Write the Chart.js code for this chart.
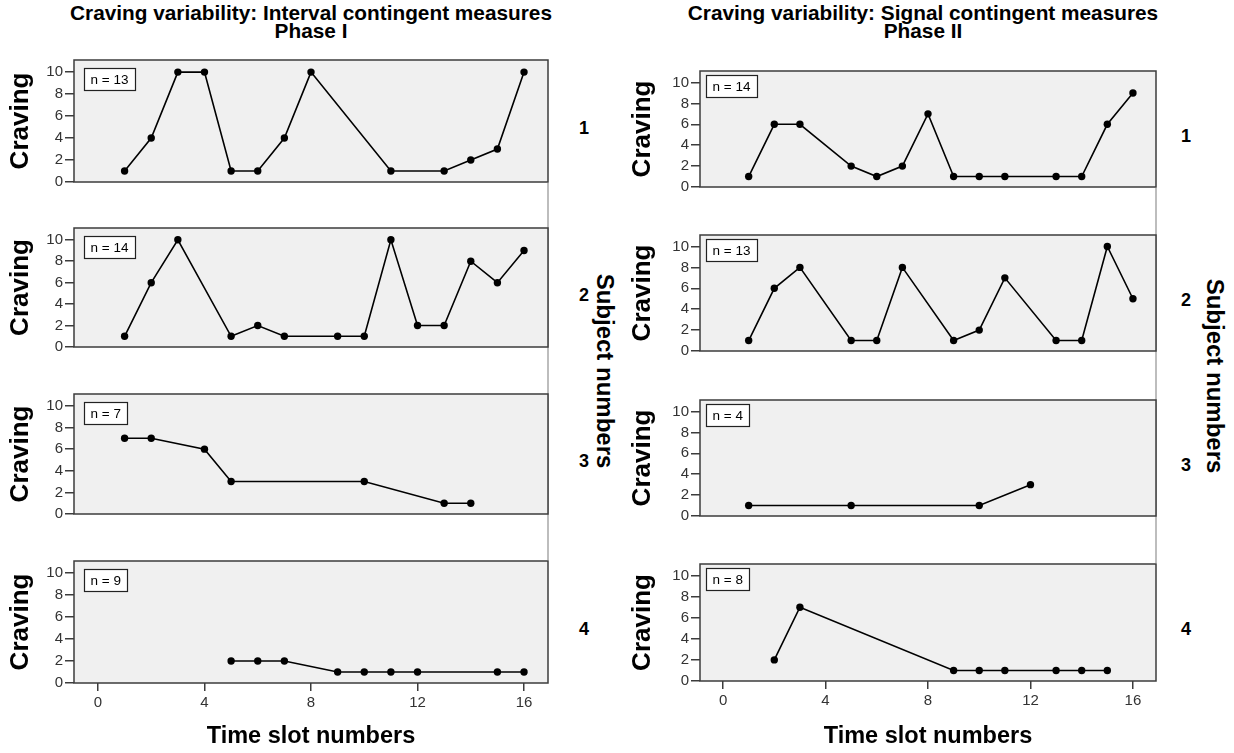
<!DOCTYPE html>
<html>
<head>
<meta charset="utf-8">
<script src="https://cdn.jsdelivr.net/npm/chart.js@4.4.1/dist/chart.umd.min.js"></script>
<style>
  body { margin: 0; background: #fff; font-family: "Liberation Sans", Arial, sans-serif; }
  #wrap { position: relative; width: 1234px; height: 753px; overflow: hidden; }
  canvas { position: absolute; }
  .txt { position: absolute; font-weight: bold; color: #000; white-space: nowrap; }
  .vline { position: absolute; width: 2px; background: #bdbdbd; }
</style>
</head>
<body>
<div id="wrap"></div>
<script>
// axis ticks
const xTicks = [0, 4, 8, 12, 16];
const yTicks = [0, 2, 4, 6, 8, 10];
const subjects = ["1", "2", "3", "4"];

// Phase I - interval contingent measures
const p1s1Slots = [1, 2, 3, 4, 5, 6, 7, 8, 11, 13, 14, 15, 16];
const p1s1Craving = [1, 4, 10, 10, 1, 1, 4, 10, 1, 1, 2, 3, 10];
const p1s2Slots = [1, 2, 3, 5, 6, 7, 9, 10, 11, 12, 13, 14, 15, 16];
const p1s2Craving = [1, 6, 10, 1, 2, 1, 1, 1, 10, 2, 2, 8, 6, 9];
const p1s3Slots = [1, 2, 4, 5, 10, 13, 14];
const p1s3Craving = [7, 7, 6, 3, 3, 1, 1];
const p1s4Slots = [5, 6, 7, 9, 10, 11, 12, 15, 16];
const p1s4Craving = [2, 2, 2, 1, 1, 1, 1, 1, 1];

// Phase II - signal contingent measures
const p2s1Slots = [1, 2, 3, 5, 6, 7, 8, 9, 10, 11, 13, 14, 15, 16];
const p2s1Craving = [1, 6, 6, 2, 1, 2, 7, 1, 1, 1, 1, 1, 6, 9];
const p2s2Slots = [1, 2, 3, 5, 6, 7, 9, 10, 11, 13, 14, 15, 16];
const p2s2Craving = [1, 6, 8, 1, 1, 8, 1, 2, 7, 1, 1, 10, 5];
const p2s3Slots = [1, 5, 10, 12];
const p2s3Craving = [1, 1, 1, 3];
const p2s4Slots = [2, 3, 9, 10, 11, 13, 14, 15];
const p2s4Craving = [2, 7, 1, 1, 1, 1, 1, 1];

const FONT = '"Liberation Sans", Arial, sans-serif';
const wrap = document.getElementById("wrap");

// layout of the two columns (pixels)
const columns = [
  {
    title: ["Craving variability: Interval contingent measures", "Phase I"],
    titleCenter: 311,
    canvasLeft: 0, plotLeft: 74, plotRight: 548,
    tops: [59, 227, 393, 560], bottoms: [183, 348, 515, 683],
    yTitlePad: 5, boxX: 10, boxY: 8, stripX: 584, subjX: 605,
    slots: [p1s1Slots, p1s2Slots, p1s3Slots, p1s4Slots],
    craving: [p1s1Craving, p1s2Craving, p1s3Craving, p1s4Craving]
  },
  {
    title: ["Craving variability: Signal contingent measures", "Phase II"],
    titleCenter: 923,
    canvasLeft: 620, plotLeft: 700, plotRight: 1156,
    tops: [70, 234, 399, 563], bottoms: [188, 352, 517, 681],
    yTitlePad: 7, boxX: 6, boxY: 4, stripX: 1186, subjX: 1215,
    slots: [p2s1Slots, p2s2Slots, p2s3Slots, p2s4Slots],
    craving: [p2s1Craving, p2s2Craving, p2s3Craving, p2s4Craving]
  }
];

function addText(text, x, y, size, rotate) {
  const d = document.createElement("div");
  d.className = "txt";
  d.textContent = text;
  d.style.fontSize = size + "px";
  d.style.left = x + "px";
  d.style.top = y + "px";
  d.style.transform = "translate(-50%, -50%)" + (rotate ? " rotate(90deg)" : "");
  wrap.appendChild(d);
}

// panel background, frame and the "n = .." box
const panelFrame = {
  id: "panelFrame",
  beforeDraw(chart) {
    const a = chart.chartArea;
    const ctx = chart.ctx;
    ctx.save();
    ctx.fillStyle = "#f0f0f0";
    ctx.fillRect(a.left, a.top, a.width, a.height);
    ctx.restore();
  },
  afterDraw(chart, args, opts) {
    const a = chart.chartArea;
    const ctx = chart.ctx;
    ctx.save();
    ctx.strokeStyle = "#3c3c3c";
    ctx.lineWidth = 1.5;
    ctx.strokeRect(a.left, a.top, a.width, a.height);
    ctx.font = "13.5px " + FONT;
    const label = "n = " + opts.n;
    const w = Math.round(ctx.measureText(label).width + 13);
    const h = 22;
    const bx = Math.round(a.left + opts.x) + 0.5;
    const by = Math.round(a.top + opts.y) + 0.5;
    ctx.fillStyle = "#fff";
    ctx.fillRect(bx, by, w, h);
    ctx.strokeStyle = "#222";
    ctx.lineWidth = 1.2;
    ctx.strokeRect(bx, by, w, h);
    ctx.fillStyle = "#000";
    ctx.textBaseline = "middle";
    ctx.fillText(label, bx + 6, by + h / 2 + 1);
    ctx.restore();
  }
};

function makePanel(col, i) {
  const isBottom = i === 3;
  const top = col.tops[i] - 10;
  const plotH = col.bottoms[i] - col.tops[i];
  const xAxisH = isBottom ? 753 - col.bottoms[i] : 10;
  const height = isBottom ? 753 - top : plotH + 20;
  const width = col.plotRight - col.canvasLeft + 12;

  const canvas = document.createElement("canvas");
  canvas.width = width;
  canvas.height = height;
  canvas.style.left = col.canvasLeft + "px";
  canvas.style.top = top + "px";
  wrap.appendChild(canvas);

  const points = col.slots[i].map((s, k) => ({ x: s, y: col.craving[i][k] }));

  new Chart(canvas, {
    type: "scatter",
    data: {
      datasets: [{
        data: points,
        showLine: true,
        borderColor: "#000",
        borderWidth: 1.6,
        backgroundColor: "#000",
        pointRadius: 3.7,
        pointBorderWidth: 0
      }]
    },
    options: {
      responsive: false,
      animation: false,
      layout: { padding: { top: 10, right: 12, bottom: 0, left: 0 } },
      plugins: {
        legend: { display: false },
        tooltip: { enabled: false },
        panelFrame: { n: col.slots[i].length, x: col.boxX, y: col.boxY }
      },
      scales: {
        x: {
          type: "linear",
          min: -0.9,
          max: 16.9,
          afterBuildTicks: s => { s.ticks = xTicks.map(v => ({ value: v })); },
          afterFit: s => { s.height = xAxisH; },
          border: { display: false },
          grid: {
            display: isBottom,
            drawOnChartArea: false,
            tickLength: 8,
            color: "#3c3c3c",
            lineWidth: 1.5
          },
          ticks: {
            display: isBottom,
            font: { family: FONT, size: 15 },
            color: "#333",
            padding: 3,
            maxRotation: 0
          },
          title: {
            display: isBottom,
            text: "Time slot numbers",
            font: { family: FONT, size: 23.5, weight: "bold" },
            color: "#000",
            padding: { top: 0, bottom: 2 }
          }
        },
        y: {
          min: 0,
          max: 11.1,
          afterBuildTicks: s => { s.ticks = yTicks.map(v => ({ value: v })); },
          afterFit: s => { s.width = col.plotLeft - col.canvasLeft; },
          border: { display: false },
          grid: {
            drawOnChartArea: false,
            tickLength: 9,
            color: "#3c3c3c",
            lineWidth: 1.5
          },
          ticks: {
            font: { family: FONT, size: 15 },
            color: "#333",
            padding: 2
          },
          title: {
            display: true,
            text: "Craving",
            font: { family: FONT, size: 26, weight: "bold" },
            color: "#000",
            padding: { top: col.yTitlePad, bottom: 0 }
          }
        }
      }
    },
    plugins: [panelFrame]
  });

  // subject number in the strip at the right
  addText(subjects[i], col.stripX, (col.tops[i] + col.bottoms[i]) / 2 + 7, 18, false);
}

columns.forEach(col => {
  // grey strip line between the panels
  const line = document.createElement("div");
  line.className = "vline";
  line.style.left = (col.plotRight - 1) + "px";
  line.style.top = col.bottoms[0] + "px";
  line.style.height = (col.tops[3] - col.bottoms[0]) + "px";
  wrap.appendChild(line);

  for (let i = 0; i < 4; i++) makePanel(col, i);

  addText(col.title[0], col.titleCenter, 13, 20.8, false);
  addText(col.title[1], col.titleCenter, 31, 20.8, false);
  addText("Subject numbers", col.subjX, (col.tops[0] + col.bottoms[3]) / 2, 24, true);
});
</script>
</body>
</html>
